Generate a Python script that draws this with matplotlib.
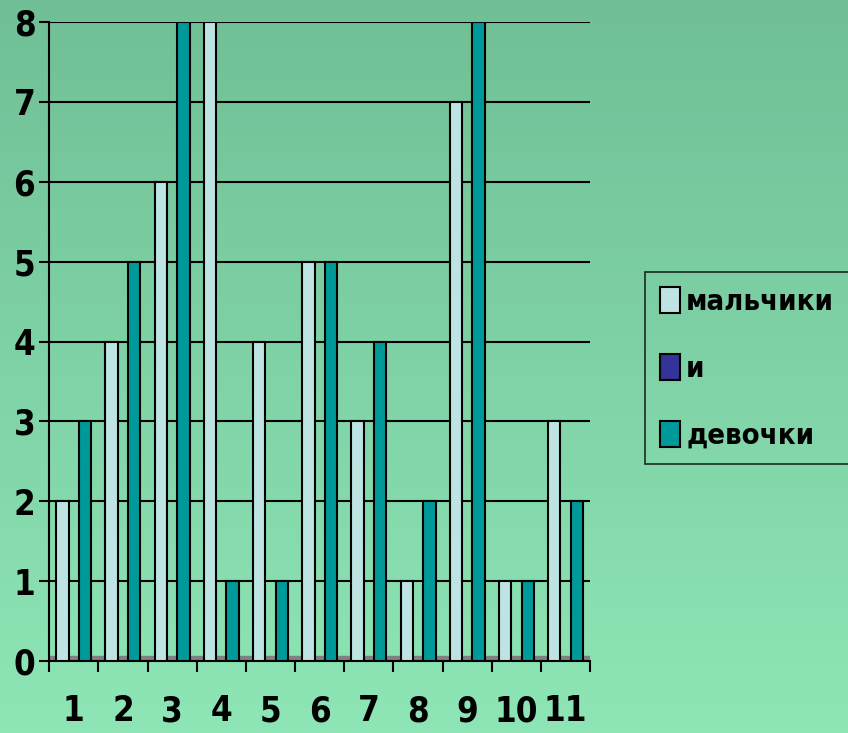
import numpy as np
import matplotlib.pyplot as plt
from matplotlib.colors import LinearSegmentedColormap
from matplotlib import font_manager

# Data
categories = ["1", "2", "3", "4", "5", "6", "7", "8", "9", "10", "11"]
boys = [2, 4, 6, 8, 4, 5, 3, 1, 7, 1, 3]
middle = [0, 0, 0, 0, 0, 0, 0, 0, 0, 0, 0]
girls = [3, 5, 8, 1, 1, 5, 4, 2, 8, 1, 2]
series_names = ["мальчики", "и", "девочки"]
colors = ["#bde3e3", "#333399", "#009999"]

# condensed bold font to mimic the tall narrow labels
tick_font = font_manager.FontProperties(family="DejaVu Sans", weight="bold", stretch="condensed", size=25)
leg_font = font_manager.FontProperties(family="DejaVu Sans", weight="bold", stretch="condensed", size=21)

fig = plt.figure(figsize=(8.48, 7.33), dpi=100)

# green gradient background
bg = fig.add_axes([0, 0, 1, 1], zorder=-10)
grad = np.linspace(0, 1, 256).reshape(-1, 1)
cmap = LinearSegmentedColormap.from_list("bg", ["#70bf96", "#8ee6b6"])
bg.imshow(grad, aspect="auto", cmap=cmap, extent=[0, 1, 0, 1], origin="upper")
bg.axis("off")

ax = fig.add_axes([0.058, 0.098, 0.638, 0.872])
ax.patch.set_alpha(0)

x = np.arange(len(categories))
w = 0.25
off = 0.23
ax.axhspan(0, 0.06, color="#808080", zorder=1)
ax.bar(x - off, boys, w, color=colors[0], edgecolor="black", linewidth=1.5, zorder=3, label=series_names[0])
ax.bar(x, middle, w, color=colors[1], linewidth=0, zorder=3, label=series_names[1])
ax.bar(x + off, girls, w, color=colors[2], edgecolor="black", linewidth=1.5, zorder=3, label=series_names[2])

ax.set_xlim(-0.5, len(categories) - 0.5)
ax.set_ylim(0, 8)
ax.set_yticks(range(0, 9))
ax.grid(axis="y", color="black", linewidth=1.5, zorder=0)
ax.set_axisbelow(True)

ax.set_xticks(x)
ax.set_xticklabels(categories)
ax.set_xticks(np.arange(len(categories) + 1) - 0.5, minor=True)
ax.tick_params(axis="x", which="major", length=0, pad=24)
ax.tick_params(axis="x", which="minor", length=8, width=1.5, color="black")
ax.tick_params(axis="y", length=7, width=1.5, pad=3)
for lab in ax.get_xticklabels() + ax.get_yticklabels():
    lab.set_fontproperties(tick_font)

for side in ["top", "right"]:
    ax.spines[side].set_visible(False)
ax.spines["left"].set_linewidth(1.5)
ax.spines["bottom"].set_linewidth(1.5)

leg = ax.legend(loc="center left", bbox_to_anchor=(1.102, 0.458), frameon=True,
                prop=leg_font,
                handlelength=0.7, handleheight=1.0, handletextpad=0.2,
                labelspacing=1.3, borderpad=0.5, fancybox=False, borderaxespad=0)
leg.get_frame().set_edgecolor("black")
leg.get_frame().set_facecolor("none")
leg.get_frame().set_linewidth(1.2)
for h in leg.legend_handles:
    h.set_edgecolor("black")
    h.set_linewidth(1.5)

plt.savefig("out.png", dpi=100)
